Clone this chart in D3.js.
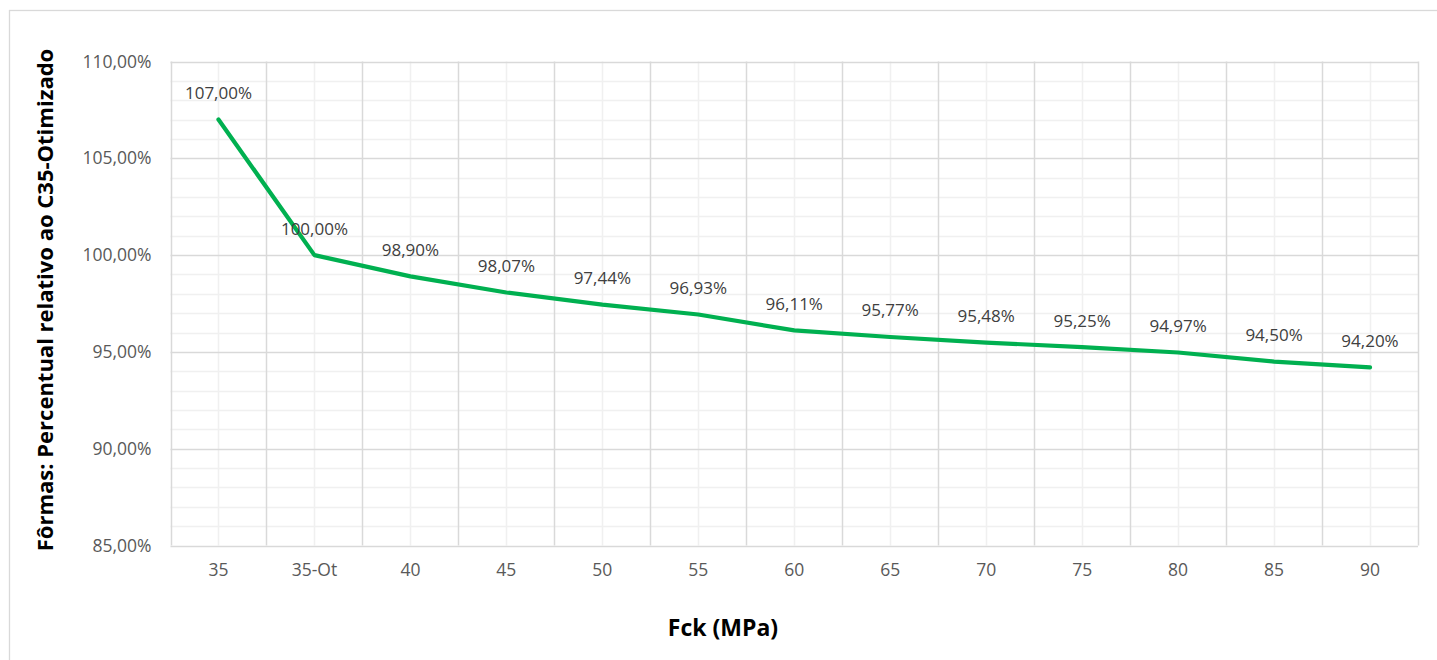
<!DOCTYPE html>
<html>
<head>
<meta charset="utf-8">
<script src="https://cdn.jsdelivr.net/npm/d3@7"></script>
<style>
  html, body { margin: 0; padding: 0; background: #fff; }
  svg { display: block; }
  text { font-family: "Open Sans", "Noto Sans", sans-serif; }
</style>
</head>
<body>
<svg id="chart" width="1437" height="660"></svg>
<script>
// Fck classes on the category axis
const categories = ["35", "35-Ot", "40", "45", "50", "55", "60", "65", "70", "75", "80", "85", "90"];
// Formwork cost relative to the optimised C35 case (%)
const values = [107.00, 100.00, 98.90, 98.07, 97.44, 96.93, 96.11, 95.77, 95.48, 95.25, 94.97, 94.50, 94.20];
// Value-axis ticks (%)
const yTicks = [85, 90, 95, 100, 105, 110];
const yMinorTicks = d3.range(85, 111, 1);

const svg = d3.select("#chart");
const W = 1437, H = 660;
const plot = { left: 170.5, right: 1418, top: 61.5, bottom: 545.5 };

const fmtPct = v => v.toFixed(2).replace(".", ",") + "%";

// Outer chart frame
svg.append("rect")
  .attr("x", 9.5).attr("y", 10.5)
  .attr("width", W + 20).attr("height", H + 20)
  .attr("fill", "#fff").attr("stroke", "#d9d9d9").attr("stroke-width", 1.3);

const x = d3.scaleBand().domain(categories).range([plot.left, plot.right]).padding(0);
const y = d3.scaleLinear().domain([85, 110]).range([plot.bottom, plot.top]);

const grid = svg.append("g");

// Minor horizontal gridlines (every 1%)
grid.selectAll(".hminor").data(yMinorTicks.filter(v => v % 5 !== 0)).join("line")
  .attr("x1", plot.left).attr("x2", plot.right)
  .attr("y1", d => Math.round(y(d)) + 0.5).attr("y2", d => Math.round(y(d)) + 0.5)
  .attr("stroke", "#f0f0f0").attr("stroke-width", 1.5);

// Minor vertical gridlines at category centres
grid.selectAll(".vminor").data(categories).join("line")
  .attr("x1", d => Math.round(x(d) + x.bandwidth() / 2) + 0.5)
  .attr("x2", d => Math.round(x(d) + x.bandwidth() / 2) + 0.5)
  .attr("y1", plot.top).attr("y2", plot.bottom)
  .attr("stroke", "#f0f0f0").attr("stroke-width", 1.5);

// Major horizontal gridlines (every 5%)
grid.selectAll(".hmajor").data(yTicks).join("line")
  .attr("x1", plot.left).attr("x2", plot.right)
  .attr("y1", d => Math.round(y(d)) + 0.5).attr("y2", d => Math.round(y(d)) + 0.5)
  .attr("stroke", "#d9d9d9").attr("stroke-width", 1.5);

// Major vertical gridlines at category boundaries
const bounds = categories.map(c => x(c)).concat([plot.right]);
grid.selectAll(".vmajor").data(bounds).join("line")
  .attr("x1", d => Math.round(d) + 0.5).attr("x2", d => Math.round(d) + 0.5)
  .attr("y1", plot.top).attr("y2", plot.bottom)
  .attr("stroke", "#d9d9d9").attr("stroke-width", 1.5);

// Y axis labels
const yAxis = d3.axisLeft(y).tickValues(yTicks).tickFormat(fmtPct).tickSize(0).tickPadding(0);
const gy = svg.append("g").attr("transform", `translate(${plot.left - 19},0)`).call(yAxis);
gy.select(".domain").remove();
gy.selectAll("text").attr("font-size", 17.5).attr("fill", "#595959").attr("font-family", "Open Sans");

// X axis labels
const xAxis = d3.axisBottom(x).tickSize(0).tickPadding(0);
const gx = svg.append("g").attr("transform", `translate(0,${plot.bottom + 18})`).call(xAxis);
gx.select(".domain").remove();
gx.selectAll("text").attr("font-size", 17.5).attr("fill", "#595959").attr("font-family", "Open Sans");

// Series line
const pts = categories.map((c, i) => ({ c, v: values[i] }));
const line = d3.line().x(d => x(d.c) + x.bandwidth() / 2).y(d => y(d.v)).curve(d3.curveLinear);
svg.append("path").datum(pts)
  .attr("d", line)
  .attr("fill", "none").attr("stroke", "#00b050").attr("stroke-width", 4.2)
  .attr("stroke-linejoin", "round").attr("stroke-linecap", "round");

// Data labels above each point
svg.append("g").selectAll("text").data(pts).join("text")
  .attr("x", d => x(d.c) + x.bandwidth() / 2)
  .attr("y", d => y(d.v) - 26.5)
  .attr("dy", "0.35em")
  .attr("text-anchor", "middle")
  .attr("font-size", 17)
  .attr("fill", "#404040")
  .text(d => fmtPct(d.v));

// Axis titles
svg.append("text")
  .attr("x", 723).attr("y", 628)
  .attr("dy", "0.35em").attr("text-anchor", "middle")
  .attr("font-size", 23).attr("font-weight", "bold").attr("fill", "#000")
  .text("Fck (MPa)");

svg.append("text")
  .attr("transform", "translate(45,300) rotate(-90)")
  .attr("dy", "0.35em").attr("text-anchor", "middle")
  .attr("font-size", 22).attr("font-weight", "bold").attr("fill", "#000")
  .text("Fôrmas: Percentual relativo ao C35-Otimizado");
</script>
</body>
</html>
